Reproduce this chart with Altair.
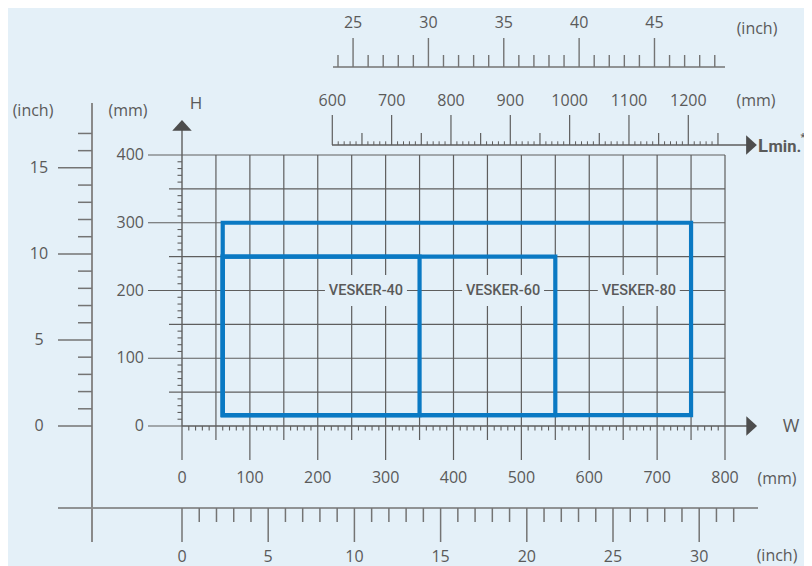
import altair as alt
import pandas as pd

# ---------------- data ----------------
models = ["VESKER-40", "VESKER-60", "VESKER-80"]
w_start = [60, 60, 60]          # mm
w_end = [350, 550, 750]         # mm
h_bottom = [16, 16, 16]         # mm
h_top = [250, 250, 300]         # mm
label_w = [271, 473, 673]       # label anchor (mm)
label_h = [200, 200, 200]

w_mm_labels = [0, 100, 200, 300, 400, 500, 600, 700, 800]
h_mm_labels = [0, 100, 200, 300, 400]
w_inch_labels = [0, 5, 10, 15, 20, 25, 30]
h_inch_labels = [0, 5, 10, 15]
l_mm_labels = [600, 700, 800, 900, 1000, 1100, 1200]
l_inch_labels = [25, 30, 35, 40, 45]

# tick sets (axis definitions)
w_grid = list(range(50, 801, 50))
h_grid = list(range(50, 401, 50))
w_major = list(range(0, 801, 100))
w_mid = list(range(50, 800, 100))
w_minor = [v for v in range(10, 800, 10) if v % 50]
h_major = list(range(0, 401, 100))
h_mid = list(range(50, 400, 100))
h_minor = [v for v in range(10, 400, 10) if v % 50]
bi_major = list(range(0, 31, 5))
bi_minor = [v for v in range(0, 33) if v % 5]
li_major = list(range(0, 16, 5))
li_minor = [v for v in range(0, 18) if v % 5]
l_major = list(range(600, 1201, 100))
l_mid = list(range(650, 1251, 100))
l_minor = [v for v in range(610, 1250, 10) if v % 50]
ti_major = list(range(25, 46, 5))
ti_minor = [v for v in range(24, 50) if v % 5]

# ---------------- layout / style ----------------
BG = "#e4f0f8"
GRID = "#5e5e5e"
AX = "#747474"
TXT = "#5a5a5a"
BLUE = "#0a79c3"
FONT = "Open Sans"
COND = "Roboto"

WPX, HPX, M = 796, 558, 8
def p(v):
    return v - M

KX = 543 / 800.0
KY = 271 / 400.0
X0, Y0 = 182.0, 426.0
xdom = [(M - X0) / KX, (M + WPX - X0) / KX]
ydom = [(Y0 - (M + HPX)) / KY, (Y0 - M) / KY]
KL = 356 / 600.0
L0 = 332.3

xs = alt.Scale(domain=xdom, nice=False, zero=False)
ys = alt.Scale(domain=ydom, nice=False, zero=False)

# unit conversions into the main (W/H mm) scale, done by Vega-Lite
MM = "datum.v"
INCH = "datum.v * 25.4"
LMM = f"({L0 - X0} + (datum.v - 600) * {KL}) / {KX}"
LINCH = f"({L0 - X0} + (datum.v * 25.4 - 600) * {KL}) / {KX}"

UP = "M-1,0.55 L1,0.55 L0,-0.55 Z"
RIGHT = "M-0.55,-1 L0.55,0 L-0.55,1 Z"


def base(vals, expr):
    return alt.Chart(pd.DataFrame({"v": vals})).transform_calculate(u=expr)


def vticks(vals, expr, y1, y2, color=GRID, w=1.2):
    return base(vals, expr).mark_rule(color=color, strokeWidth=w).encode(
        x=alt.X("u:Q", scale=xs, axis=None),
        y=alt.value(p(y1)), y2=alt.value(p(y2)))


def hticks(vals, expr, x1, x2, color=GRID, w=1.2):
    return base(vals, expr).mark_rule(color=color, strokeWidth=w).encode(
        y=alt.Y("u:Q", scale=ys, axis=None),
        x=alt.value(p(x1)), x2=alt.value(p(x2)))


def xlabels(vals, expr, y, size=16):
    return base(vals, expr).mark_text(font=FONT, fontSize=size, color=TXT).encode(
        x=alt.X("u:Q", scale=xs, axis=None),
        y=alt.value(p(y)), text=alt.Text("v:Q"))


def ylabels(vals, expr, x, align="center", size=16):
    return base(vals, expr).mark_text(font=FONT, fontSize=size, color=TXT, align=align).encode(
        y=alt.Y("u:Q", scale=ys, axis=None),
        x=alt.value(p(x)), text=alt.Text("v:Q"))


def note(txt, x, y, size=16, font=FONT, weight="normal", align="center", color=TXT):
    return alt.Chart(pd.DataFrame({"v": [0]})).mark_text(
        text=txt, font=font, fontSize=size, fontWeight=weight, align=align, color=color).encode(
        x=alt.value(p(x)), y=alt.value(p(y)))


def seg(x1, x2, y1, y2, color=AX, w=1.5):
    return alt.Chart(pd.DataFrame({"v": [0]})).mark_rule(color=color, strokeWidth=w).encode(
        x=alt.value(p(x1)), x2=alt.value(p(x2)), y=alt.value(p(y1)), y2=alt.value(p(y2)))


# ---------------- main grid (W / H in mm) ----------------
grid_v = base(w_grid, MM).transform_calculate(lo="0", hi="400").mark_rule(
    color=GRID, strokeWidth=1.2).encode(
    x=alt.X("u:Q", scale=xs, axis=None),
    y=alt.Y("lo:Q", scale=ys, axis=None), y2="hi:Q")
grid_h = base(h_grid, MM).transform_calculate(lo="0", hi="800").mark_rule(
    color=GRID, strokeWidth=1.2).encode(
    y=alt.Y("u:Q", scale=ys, axis=None),
    x=alt.X("lo:Q", scale=xs, axis=None), x2="hi:Q")
h_axis = base([0], MM).mark_rule(color=GRID, strokeWidth=1.4).encode(
    x=alt.X("u:Q", scale=xs, axis=None),
    y=alt.Y("v:Q", scale=ys, axis=None), y2=alt.value(p(126)))
w_axis = base([0], MM).mark_rule(color=GRID, strokeWidth=1.4).encode(
    y=alt.Y("u:Q", scale=ys, axis=None),
    x=alt.X("v:Q", scale=xs, axis=None), x2=alt.value(p(748)))
h_arrow = base([0], MM).mark_point(shape=UP, size=380, filled=True, opacity=1, color="#4d4d4d").encode(
    x=alt.X("u:Q", scale=xs, axis=None), y=alt.value(p(125.3)))
w_arrow = base([0], MM).mark_point(shape=RIGHT, size=380, filled=True, opacity=1, color="#4d4d4d").encode(
    y=alt.Y("u:Q", scale=ys, axis=None), x=alt.value(p(751.7)))
l_arrow = alt.Chart(pd.DataFrame({"v": [0]})).mark_point(
    shape=RIGHT, size=380, filled=True, opacity=1, color="#4d4d4d").encode(
    x=alt.value(p(751.5)), y=alt.value(p(145)))

boxes_df = pd.DataFrame({"model": models, "w": w_start, "w2": w_end, "h": h_bottom, "h2": h_top})
labels_df = pd.DataFrame({"model": models, "lw": label_w, "lh": label_h})

label_bg = alt.Chart(labels_df).mark_rect(
    color=BG, xOffset=-41, x2Offset=41, yOffset=-15.5, y2Offset=15.5).encode(
    x=alt.X("lw:Q", scale=xs, axis=None), x2="lw:Q",
    y=alt.Y("lh:Q", scale=ys, axis=None), y2="lh:Q")
rects = alt.Chart(boxes_df).mark_rect(fillOpacity=0, stroke=BLUE, strokeWidth=4.2).encode(
    x=alt.X("w:Q", scale=xs, axis=None), x2="w2:Q",
    y=alt.Y("h:Q", scale=ys, axis=None), y2="h2:Q")
label_txt = alt.Chart(labels_df).mark_text(font=COND, fontSize=14.5, fontWeight=500, color=TXT).encode(
    x=alt.X("lw:Q", scale=xs, axis=None), y=alt.Y("lh:Q", scale=ys, axis=None), text="model:N")

layers = [
    grid_v, grid_h,
    vticks(w_major, MM, 426, 460), vticks(w_mid, MM, 426, 440), vticks(w_minor, MM, 426, 430.5, w=1.1),
    hticks(h_major, MM, 148, 182), hticks(h_mid, MM, 169, 182), hticks(h_minor, MM, 177.5, 182, w=1.1),
    h_axis, w_axis, h_arrow, w_arrow,
    label_bg, rects, label_txt,
    xlabels(w_mm_labels, MM, 478),
    ylabels(h_mm_labels, MM, 144, align="right"),
    # bottom inch scale
    seg(58, 758, 508, 508),
    vticks(bi_major, INCH, 508, 542, color=AX, w=1.5),
    vticks(bi_minor, INCH, 508, 522, color=AX, w=1.5),
    xlabels(w_inch_labels, INCH, 557),
    # left inch scale
    seg(92, 92, 103, 542, color="#8a8a8a", w=2),
    hticks(li_major, INCH, 58, 92, color=AX, w=1.5),
    hticks(li_minor, INCH, 78, 92, color=AX, w=1.5),
    ylabels(h_inch_labels, INCH, 39),
    # top L (mm) scale
    seg(332, 748, 145, 145, color=GRID, w=1.3),
    vticks(l_major, LMM, 145, 115),
    vticks(l_mid, LMM, 145, 133),
    vticks(l_minor, LMM, 145, 141.3, w=1.0),
    xlabels(l_mm_labels, LMM, 101),
    l_arrow,
    # top inch scale
    seg(333, 725, 67, 67),
    vticks(ti_major, LINCH, 67, 38, color=AX, w=1.4),
    vticks(ti_minor, LINCH, 67, 55, color=AX, w=1.4),
    xlabels(l_inch_labels, LINCH, 23),
    # annotations
    note("H", 196, 104, size=17), note("W", 791, 427, size=18),
    note("(mm)", 128, 111), note("(inch)", 33, 111), note("(mm)", 777, 479),
    note("(inch)", 777, 556), note("(mm)", 756, 101), note("(inch)", 757, 29),
    note("L", 758, 146, size=18.5, font=COND, weight="bold", align="left"),
    note("min.", 768.5, 146.5, size=16.5, font=COND, weight="bold", align="left"),
    note("*", 800.5, 137.5, size=11, font=COND, weight="bold", align="left"),
]

chart = alt.layer(*layers).properties(
    width=WPX, height=HPX, padding=0, autosize="none", background=BG
).configure_view(strokeWidth=0)

chart.save("out.html", embed_options={"renderer": "svg", "actions": False})
